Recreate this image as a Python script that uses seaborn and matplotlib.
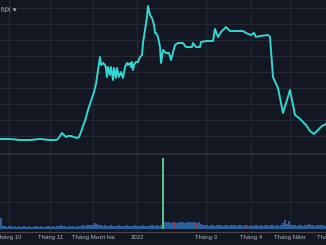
import matplotlib
matplotlib.use("Agg")
import matplotlib.pyplot as plt
import numpy as np
import pandas as pd
import seaborn as sns

# ---- data ----
price_day = [0, 5, 10, 15, 20, 25, 28, 29, 30, 31, 32, 33, 34, 35.5, 37, 38.5, 39.5,
             40.5, 41.5, 42.5, 44, 45.5, 47, 48, 49, 50, 50.5, 51.5, 52.5, 53, 53.5,
             54, 55, 55.5, 56.5, 57, 58, 58.5, 59.5, 60.5, 61.5, 62.5, 63.5, 64, 65,
             65.5, 66, 66.5, 67, 68, 69, 70, 71, 71.5, 72.5, 73.5, 74, 75, 76, 77,
             77.5, 78, 79, 80, 80.5, 81.5, 83, 84.5, 85.5, 87.5, 89, 91.5, 93, 96,
             96.5, 98, 100, 100.5, 103.5, 106.5, 107.5, 109, 110.5, 112.5, 113, 115,
             121.5, 123, 125.5, 127, 128, 130, 134, 135, 136.5, 139, 141.5, 145,
             147.5, 149.5, 151.5, 153, 155, 157, 159, 161, 163]
price_val = [9.06, 9.06, 8.75, 8.75, 9.06, 8.75, 8.75, 9.06, 10.0, 10.94, 10.31, 9.69,
             10.0, 10.0, 9.69, 9.38, 9.69,
             11.25, 13.13, 14.69, 18.13, 20.94, 23.75, 26.25, 30.63, 34.69, 32.19,
             32.81, 32.19, 31.25, 28.44,
             31.56, 29.06, 31.56, 27.5, 31.25, 28.13, 31.25, 28.44, 30.0, 28.13,
             31.56, 32.81, 32.19, 32.81,
             31.56, 33.13, 30.63, 32.19, 33.13, 33.13, 34.69, 35.31, 39.06, 43.13,
             47.19, 50.63, 47.81, 46.88, 44.69,
             42.19, 42.19, 40.94, 37.81, 32.81, 36.88, 35.94, 35.94, 33.75, 38.44,
             39.06, 39.06, 37.81, 37.81,
             39.06, 37.81, 37.81, 39.38, 39.69, 39.69, 43.44, 40.94, 42.5, 43.75,
             44.06, 42.81,
             42.81, 42.19, 41.56, 42.19, 40.94, 41.25, 41.56, 40.94, 28.44, 25.0,
             17.19, 24.38,
             16.56, 15.63, 14.38, 13.44, 11.56, 10.63, 11.88, 13.13, 13.75]

volume = [
    0.42, 0.12, 0.10, 0.09, 0.10, 0.11, 0.09, 0.10, 0.08, 0.10,
    0.09, 0.10, 0.11, 0.09, 0.10, 0.08, 0.09, 0.10, 0.10, 0.09,
    0.10, 0.09, 0.08, 0.10, 0.11, 0.09, 0.10, 0.09, 0.12, 0.10,
    0.13, 0.11, 0.10, 0.09, 0.10, 0.11, 0.10, 0.09, 0.10, 0.11,
    0.12, 0.13, 0.11, 0.14, 0.15, 0.13, 0.16, 0.22, 0.18, 0.14,
    0.13, 0.12, 0.14, 0.12, 0.11, 0.13, 0.12, 0.11, 0.12, 0.13,
    0.12, 0.11, 0.12, 0.13, 0.12, 0.11, 0.12, 0.13, 0.12, 0.11,
    0.12, 0.13, 0.12, 0.11, 0.12, 0.13, 0.14, 0.12, 0.13, 0.12,
    0.13, 2.63, 0.26, 0.25, 0.27, 0.24, 0.26, 0.25, 0.24, 0.26,
    0.25, 0.27, 0.24, 0.26, 0.25, 0.27, 0.26, 0.25, 0.24, 0.26,
    0.20, 0.15, 0.13, 0.14, 0.12, 0.13, 0.15, 0.12, 0.13, 0.14,
    0.13, 0.12, 0.14, 0.13, 0.12, 0.13, 0.15, 0.13, 0.12, 0.14,
    0.13, 0.12, 0.13, 0.14, 0.12, 0.13, 0.12, 0.14, 0.13, 0.12,
    0.13, 0.12, 0.14, 0.13, 0.12, 0.13, 0.14, 0.12, 0.13, 0.12,
    0.15, 0.22, 0.35, 0.18, 0.30, 0.16, 0.14, 0.13, 0.12, 0.14,
    0.13, 0.12, 0.14, 0.13, 0.18, 0.14, 0.13, 0.12, 0.13, 0.15,
    0.14, 0.13, 0.12,
]
spike_days = [81]
down_days = [87, 98, 123]

tick_days = [4.5, 25, 46.5, 68.5, 103, 125.5, 145]
tick_labels = ["Tháng 10", "Tháng 11", "Tháng Mười hai", "2022", "Tháng 3", "Tháng 4", "Tháng Năm"]
edge_label_day = 164
edge_label = "Tháng 6"
symbol_label = "NX ▾"

# ---- style ----
BG = "#131722"
GRID = "#262a35"
TXT = "#b2b5be"
LINE = "#33d6d0"

sns.set_theme(style="dark")
plt.rcParams["font.family"] = ["Liberation Sans", "DejaVu Sans"]

fig = plt.figure(figsize=(3.26, 2.45), dpi=100, facecolor=BG)
ax = fig.add_axes([0, 91 / 245, 1, 154 / 245], facecolor=BG)
axv = fig.add_axes([0, 13 / 245, 1, 77 / 245], facecolor=BG)

df = pd.DataFrame({"day": price_day, "price": price_val})
sns.lineplot(data=df, x="day", y="price", ax=ax, color=LINE, linewidth=1.4,
             sort=False, estimator=None, zorder=3)

n = len(volume)
colors = []
for i in range(n):
    if i in spike_days:
        colors.append("#5fbf86")
    elif i in down_days:
        colors.append("#8a3a4c")
    else:
        colors.append("#2a5f9f")
axv.bar(np.arange(n) + 0.5, volume, width=0.8, color=colors, linewidth=0, zorder=3)

for a in (ax, axv):
    a.set_xlim(0, 163)
    a.set_xticks(tick_days)
    a.grid(True, color=GRID, linewidth=0.7)
    a.set_xlabel("")
    a.set_ylabel("")
    for s in a.spines.values():
        s.set_visible(False)
    a.tick_params(length=0)

ax.set_ylim(4.375, 52.5)
ax.set_yticks([10, 15, 20, 25, 30, 35, 40, 45, 50])
ax.set_yticklabels([])
ax.set_xticklabels([])
ax.spines["bottom"].set_visible(True)
ax.spines["bottom"].set_color("#2f333e")
ax.spines["bottom"].set_linewidth(1.2)

axv.set_ylim(-0.111, 2.741)
axv.set_yticks([1, 2])
axv.set_yticklabels([])
axv.set_xticklabels(tick_labels, fontsize=4.3, color=TXT)
axv.tick_params(axis="x", pad=2.2)
axv.spines["bottom"].set_visible(True)
axv.spines["bottom"].set_color("#4a4540")
axv.spines["bottom"].set_linewidth(0.8)
axv.text(edge_label_day, -0.075, edge_label, transform=axv.get_xaxis_transform(),
         ha="center", va="center", fontsize=4.3, color=TXT, clip_on=False)

fig.text(1 / 326, 1 - 10 / 245, symbol_label, ha="left", va="center",
         fontsize=5, color=TXT)

fig.savefig("out.png", dpi=100, facecolor=BG)
